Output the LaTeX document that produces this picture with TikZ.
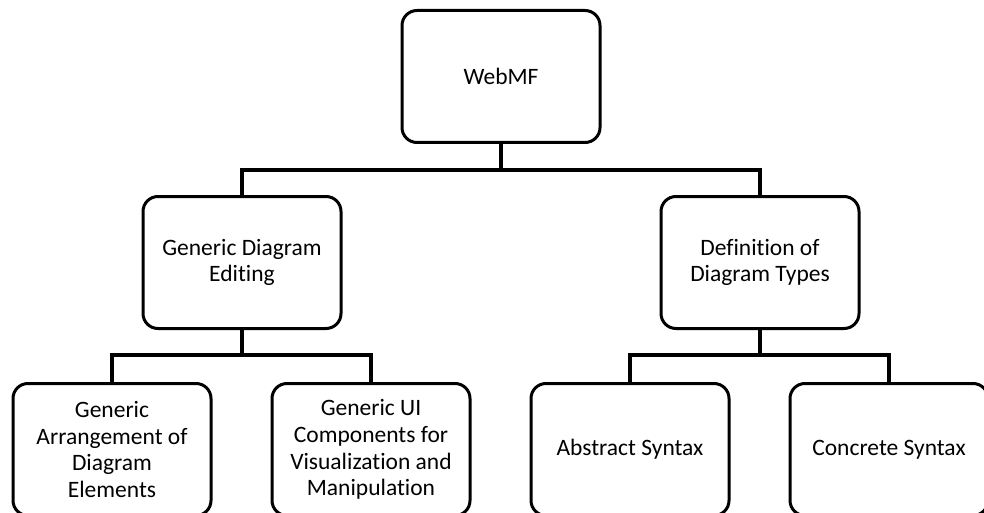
\documentclass[tikz,border=0pt]{standalone}
\usepackage{fontspec}
\setmainfont[Ligatures=NoCommon]{Carlito}
\begin{document}
\begin{tikzpicture}[x=1pt,y=-1pt,
  box/.style={draw=black, line width=3pt, rounded corners=15pt, fill=white,
    minimum width=198pt, minimum height=132pt, align=center, inner sep=0pt,
    font=\fontsize{23.5}{26.8}\selectfont},
  conn/.style={draw=black, line width=3.2pt}]
  \useasboundingbox (0,0) rectangle (984,513);
  \begin{scope}
    \clip (0,0) rectangle (984,513);
    % junction points of the connectors
    \coordinate (j1) at (501,170);
    \coordinate (j2) at (242,355);
    \coordinate (j3) at (760,355);
    % tree of nodes
    \node[box] (root) at (501,76.5) {WebMF};
    \node[box] (gde) at (242,262.5) {Generic Diagram\\Editing};
    \node[box] (def) at (760,262.5) {Definition of\\Diagram Types};
    \node[box] (arr) at (112,449.5) {Generic\\Arrangement of\\Diagram\\Elements};
    \node[box] (ui) at (371,449.5) {Generic UI\\Components for\\Visualization and\\Manipulation};
    \node[box] (abs) at (630,449.5) {Abstract Syntax};
    \node[box] (con) at (889,449.5) {Concrete Syntax};
    \draw[conn] (root.south) -- (j1);
    \draw[conn] (gde.north) |- (j1) -| (def.north);
    \draw[conn] (gde.south) -- (j2);
    \draw[conn] (arr.north) |- (j2) -| (ui.north);
    \draw[conn] (def.south) -- (j3);
    \draw[conn] (abs.north) |- (j3) -| (con.north);
  \end{scope}
\end{tikzpicture}
\end{document}
